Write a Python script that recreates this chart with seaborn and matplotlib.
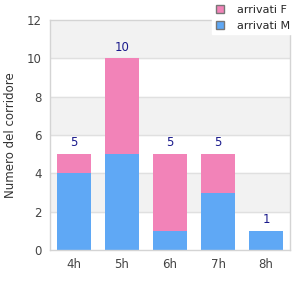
import numpy as np
import pandas as pd
import matplotlib
matplotlib.use("Agg")
import matplotlib.pyplot as plt
import seaborn as sns
from matplotlib.patches import Patch

# --- dati ---
ore = ["4h", "5h", "6h", "7h", "8h"]
arrivati_m = [4, 5, 1, 3, 1]
arrivati_f = [1, 5, 4, 2, 0]
totali = [m + f for m, f in zip(arrivati_m, arrivati_f)]

COL_M = "#5fa8f5"
COL_F = "#f283b8"
GRID = "#e0e0e0"
FS = 8.5

sns.set_style("white")
plt.rcParams["font.family"] = ["DejaVu Sans"]

fig = plt.figure(figsize=(3, 3), dpi=100)
ax = fig.add_axes([50 / 300, 50 / 300, 240 / 300, 230 / 300])

df = pd.DataFrame({"ora": ore, "M": arrivati_m, "tot": totali})

# bande alternate di sfondo
for lo in range(2, 12, 4):
    ax.axhspan(lo, lo + 2, color="#f2f2f2", zorder=0)
for y in range(2, 12, 2):
    ax.axhline(y, color=GRID, lw=1, zorder=0.5)

# barre impilate: prima il totale (rosa), poi M sopra (blu)
sns.barplot(data=df, x="ora", y="tot", color=COL_F, width=0.72,
            saturation=1, linewidth=0, ax=ax, zorder=2)
sns.barplot(data=df, x="ora", y="M", color=COL_M, width=0.72,
            saturation=1, linewidth=0, ax=ax, zorder=3)

for i, t in enumerate(totali):
    ax.text(i, t + 0.25, str(t), ha="center", va="bottom",
            fontsize=FS, color="#1a1a8c")

ax.set_ylim(0, 12)
ax.set_xlim(-0.5, 4.5)
ax.set_yticks(range(0, 13, 2))
ax.set_xlabel("")
ax.set_ylabel("Numero del corridore", fontsize=FS, color="#333333", labelpad=7)
ax.tick_params(axis="both", labelsize=FS, colors="#444444", length=0, pad=6)
for s in ax.spines.values():
    s.set_color("#d4d4d4")
    s.set_linewidth(1)
    s.set_zorder(4)

handles = [Patch(facecolor=COL_F, edgecolor="#777777", label="arrivati F"),
           Patch(facecolor=COL_M, edgecolor="#777777", label="arrivati M")]
fig.legend(handles=handles, loc="upper right", bbox_to_anchor=(0.985, 1.0),
           fontsize=8, frameon=True, fancybox=False, edgecolor="white",
           framealpha=1, handlelength=0.75, handleheight=0.75,
           borderpad=0.3, labelspacing=0.5, handletextpad=1.2,
           borderaxespad=0.15)

fig.savefig("out.png", dpi=100)
